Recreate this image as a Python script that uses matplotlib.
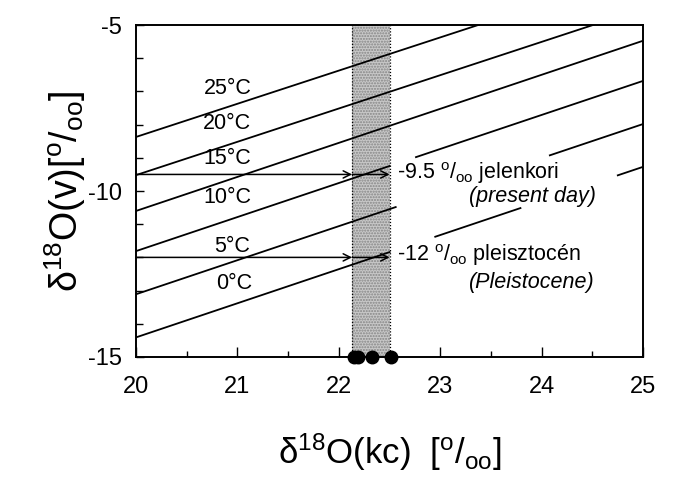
import matplotlib
matplotlib.use("Agg")
import matplotlib.pyplot as plt
import numpy as np

plt.rcParams["font.family"] = ["Liberation Sans", "DejaVu Sans"]
plt.rcParams["mathtext.fontset"] = "custom"
plt.rcParams["mathtext.rm"] = "Liberation Sans"
plt.rcParams["mathtext.it"] = "Liberation Sans:italic"
plt.rcParams["axes.unicode_minus"] = False

# Equilibrium lines: d18O(v) read at x=20 and x=25 for each temperature
temps = [0, 5, 10, 15, 20, 25]
y_at_20 = [-14.41, -13.11, -11.81, -10.60, -9.52, -8.37]
y_at_25 = [-9.27, -7.98, -6.68, -5.47, -4.50, -3.37]

# measured calcite values (dots on the x axis) and their range
kc_points = [22.15, 22.19, 22.33, 22.51]
kc_range = [22.13, 22.50]

# present day / Pleistocene water values
water_vals = [-9.5, -12.0]

PER_MIL = r"$^{\rm o}$/$_{\rm oo}$"

fig = plt.figure(figsize=(6.77, 4.83), dpi=100)
ax = fig.add_axes([0.201, 0.261, 0.749, 0.687])
ax.set_xlim(20, 25)
ax.set_ylim(-15, -5)

# shaded band of measured values
ax.axvspan(kc_range[0], kc_range[1], facecolor="#c8c8c8", edgecolor="#858585",
           hatch="......", lw=0, zorder=1)
for xv in kc_range:
    ax.axvline(xv, color="k", ls=(0, (1, 1.5)), lw=0.9, zorder=2)

# line pieces kept visible (gaps leave room for the labels)
pieces = {
    0: [(20, 22.5), (22.95, 23.79), (24.75, 25)],
    5: [(20, 22.56), (24.08, 25)],
    10: [(20, 22.5), (22.76, 25)],
    15: [(20, 25)],
    20: [(20, 25)],
    25: [(20, 25)],
}
for t, y0, y1 in zip(temps, y_at_20, y_at_25):
    slope = (y1 - y0) / 5.0
    for a, b in pieces[t]:
        xs = np.array([a, b])
        ax.plot(xs, y0 + slope * (xs - 20), color="k", lw=1.3, zorder=3)

# temperature labels
lab_pos = {25: (20.9, -6.92), 20: (20.9, -7.98), 15: (20.9, -9.03),
           10: (20.9, -10.2), 5: (20.95, -11.66), 0: (20.97, -12.8)}
for t in temps:
    lx, ly = lab_pos[t]
    ax.text(lx, ly, f"{t}°C", ha="center", va="center", fontsize=15.5)

# arrows to the band edge and on to the right edge
for w in water_vals:
    ax.annotate("", xy=(kc_range[0], w), xytext=(20, w),
                arrowprops=dict(arrowstyle="->", lw=1.1, color="k",
                                shrinkA=0, shrinkB=0, mutation_scale=13),
                zorder=4)
    ax.annotate("", xy=(kc_range[1], w), xytext=(kc_range[0], w),
                arrowprops=dict(arrowstyle="->", lw=1.1, color="k",
                                shrinkA=0, shrinkB=0, mutation_scale=13),
                zorder=4)

ax.text(22.57, water_vals[0] + 0.03, f"-9.5 {PER_MIL} jelenkori",
        ha="left", va="center", fontsize=15.5)
ax.text(23.28, -10.15, "(present day)", ha="left", va="center",
        fontsize=15.5, style="italic")
ax.text(22.57, water_vals[1] + 0.08, f"-12 {PER_MIL} pleisztocén",
        ha="left", va="center", fontsize=15.5)
ax.text(23.28, -12.75, "(Pleistocene)", ha="left", va="center",
        fontsize=15.5, style="italic")

# measured points on the axis
ax.plot(kc_points, [-15] * len(kc_points), "o", color="k", ms=9,
        clip_on=False, zorder=5)

# axes styling
for side in ["top", "right"]:
    ax.spines[side].set_visible(False)
for side in ["left", "bottom"]:
    ax.spines[side].set_linewidth(1.4)
ax.plot([20, 25], [-5, -5], color="k", lw=1.4, clip_on=False, zorder=6)
ax.plot([25, 25], [-15, -5], color="k", lw=1.4, clip_on=False, zorder=6)

ax.set_xticks([20, 21, 22, 23, 24, 25])
ax.set_xticks(np.arange(20.5, 25, 1.0), minor=True)
ax.set_yticks([-15, -10, -5])
ax.set_yticks(np.arange(-14, -5, 1.0), minor=True)
ax.tick_params(which="both", direction="in", top=False, right=False,
               labelsize=17, width=1.0)
ax.tick_params(axis="x", which="major", length=7, pad=14)
ax.tick_params(axis="x", which="minor", length=4)
ax.tick_params(axis="y", which="major", length=6, pad=10)
ax.tick_params(axis="y", which="minor", length=5)

ax.set_xlabel("δ$^{18}$O(kc)  [" + PER_MIL + "]", fontsize=25, labelpad=24)
ax.set_ylabel("δ$^{18}$O(v)[" + PER_MIL + "]", fontsize=27, labelpad=0)

fig.savefig("out.png", dpi=100, facecolor="white")
